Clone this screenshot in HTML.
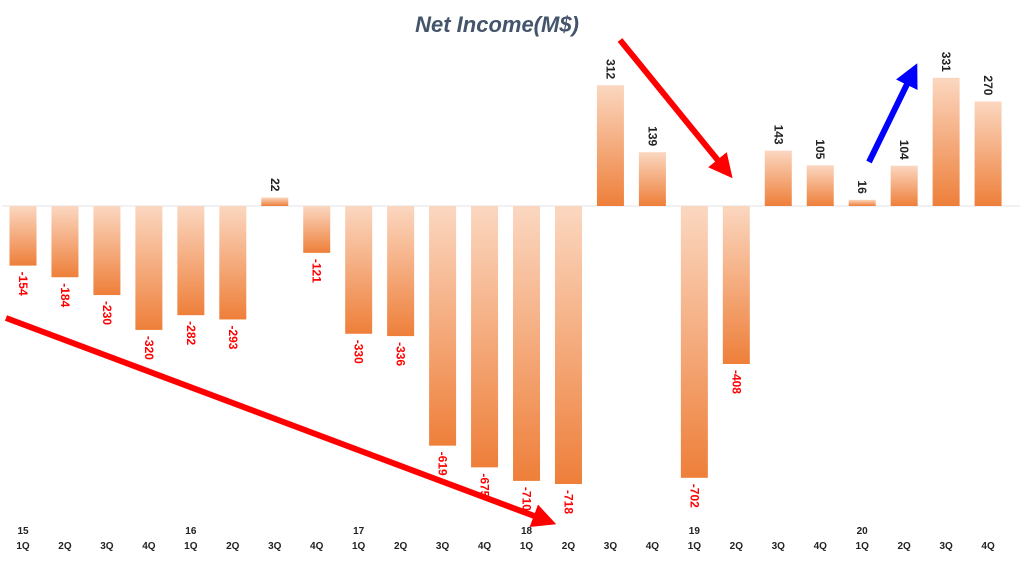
<!DOCTYPE html>
<html><head><meta charset="utf-8"><style>
body{margin:0;background:#fff;}
svg{display:block;font-family:"Liberation Sans",sans-serif;}
</style></head><body>
<svg id="chart" width="1024" height="578">
<defs>
<linearGradient id="g" x1="0" y1="0" x2="0" y2="1">
<stop offset="0" stop-color="#fbd7c0"/><stop offset="1" stop-color="#ee7f3a"/>
</linearGradient>
<marker id="ar" markerWidth="4" markerHeight="4" refX="2" refY="2" orient="auto" markerUnits="strokeWidth"><path d="M0,0 L4,2 L0,4 z" fill="#f00"/></marker>
<marker id="ab" markerWidth="4" markerHeight="4" refX="2" refY="2" orient="auto" markerUnits="strokeWidth"><path d="M0,0 L4,2 L0,4 z" fill="#00f"/></marker>
</defs>
<text x="497" y="32" text-anchor="middle" font-size="22" font-weight="bold" font-style="italic" fill="#44546a">Net Income(M$)</text>
<line x1="2" y1="206" x2="1020" y2="206" stroke="#e3e3ea" stroke-width="1"/>
<g id="bars"></g>
<line x1="6" y1="318" x2="545" y2="520" stroke="#f00" stroke-width="6" marker-end="url(#ar)"/>
<line x1="620" y1="40" x2="725" y2="169" stroke="#f00" stroke-width="6" marker-end="url(#ar)"/>
<line x1="869" y1="162" x2="912" y2="74" stroke="#00f" stroke-width="6" marker-end="url(#ab)"/>
</svg>
<script>
const years = ["15","","","","16","","","","17","","","","18","","","","19","","","","20","","",""];
const quarters = ["1Q","2Q","3Q","4Q","1Q","2Q","3Q","4Q","1Q","2Q","3Q","4Q","1Q","2Q","3Q","4Q","1Q","2Q","3Q","4Q","1Q","2Q","3Q","4Q"];
const values = [-154,-184,-230,-320,-282,-293,22,-121,-330,-336,-619,-675,-710,-718,312,139,-702,-408,143,105,16,104,331,270];
const NS="http://www.w3.org/2000/svg";
const g=document.getElementById('bars');
const y0=206, k=278/718;
const yS=v=>y0-v*k;
const xS=i=>23+i*41.96;
const bw=27;
function mk(t,a){const e=document.createElementNS(NS,t);for(const n in a)e.setAttribute(n,a[n]);return e;}
values.forEach((v,i)=>{
  const cx=xS(i);
  const top=Math.min(yS(v),y0), h=Math.abs(yS(v)-y0);
  const r=mk('rect',{x:cx-bw/2,y:top,width:bw,height:Math.max(h,1),fill:'url(#g)'});
  
  
  g.appendChild(r);
  const ly = v<0 ? yS(v)+6 : yS(v)-6;
  const t=mk('text',{x:cx,y:ly,'font-size':12,'font-weight':'bold',fill:v<0?'#f00':'#222','text-anchor':v<0?'start':'end','dominant-baseline':'central',transform:`rotate(90 ${cx} ${ly})`});
  t.textContent=v;
  
  
  g.appendChild(t);
  if(years[i]){
    const ty=mk('text',{x:cx,y:534,'font-size':10,'font-weight':'bold',fill:'#222','text-anchor':'middle'});
    ty.textContent=years[i];
    
    
    g.appendChild(ty);
  }
  const tq=mk('text',{x:cx,y:549,'font-size':10,'font-weight':'bold',fill:'#222','text-anchor':'middle'});
  tq.textContent=quarters[i];
  
  
  g.appendChild(tq);
});
</script>
</body></html>
